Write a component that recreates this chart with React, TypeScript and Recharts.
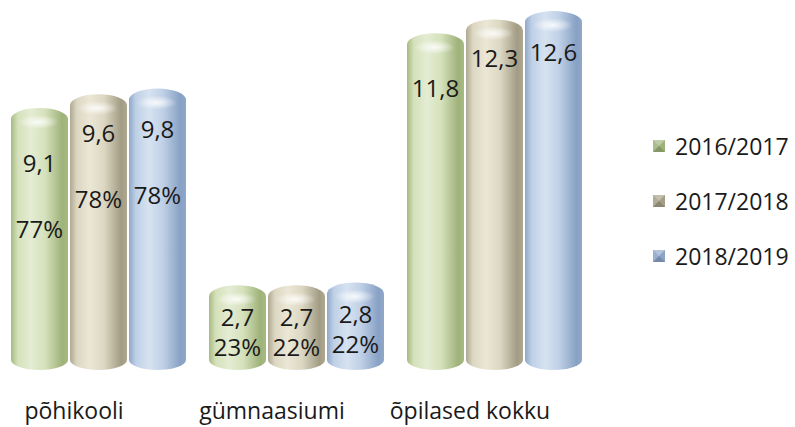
import React from 'react';
import { BarChart, Bar, XAxis, YAxis, LabelList } from 'recharts';

const categories = ['põhikooli', 'gümnaasiumi', 'õpilased kokku'];
const series1 = [9.1, 2.7, 11.8];
const series2 = [9.6, 2.7, 12.3];
const series3 = [9.8, 2.8, 12.6];
const pct1 = ['77%', '23%', ''];
const pct2 = ['78%', '22%', ''];
const pct3 = ['78%', '22%', ''];
const seriesNames = ['2016/2017', '2017/2018', '2018/2019'];

const data = categories.map((name, i) => ({
  name,
  s1: series1[i],
  s2: series2[i],
  s3: series3[i],
  p1: pct1[i],
  p2: pct2[i],
  p3: pct3[i],
}));

const FONT = '"Open Sans", Lato, sans-serif';
const palette = [
  { edge: '#a7ba82', light: '#e4ecd3', mid: '#d5e1bb', dark: '#9fb27a', icon: '#9db27a' },
  { edge: '#aea891', light: '#ebe7d6', mid: '#dcd7c2', dark: '#a29c84', icon: '#a49e86' },
  { edge: '#8fa8c9', light: '#d6e2f0', mid: '#bfd0e6', dark: '#88a1c4', icon: '#8aa3c6' },
];
const valueOffsets = [54, 38, 40];

const fmt = (v: number) => v.toFixed(1).replace('.', ',');

const Cylinder = (si: number) => (props: any) => {
  const { x, y, width: w, height: h } = props;
  if (!w || !h) return null;
  const ry = 11;
  const d = `M${x},${y + ry} A${w / 2},${ry} 0 0 1 ${x + w},${y + ry} L${x + w},${y + h} A${w / 2},${ry - 1} 0 0 1 ${x},${y + h} Z`;
  return (
    <g>
      <path d={d} fill={`url(#cyl${si})`} />
      <ellipse cx={x + w * 0.48} cy={y + ry + 3} rx={w * 0.36} ry={7} fill="url(#hl)" />
    </g>
  );
};

const makeLabel = (si: number, pctKey: 'p1' | 'p2' | 'p3') => (props: any) => {
  const { x, y, width: w, height: h, value, index } = props;
  const cx = x + w / 2;
  const small = h < 120;
  const vy = y + (small ? 31 : valueOffsets[si]);
  const pct = data[index][pctKey];
  return (
    <g>
      <text x={cx} y={vy} textAnchor="middle" dominantBaseline="central" fontSize={24} fontFamily={FONT} fill="#1a1a1a">
        {fmt(value)}
      </text>
      {pct ? (
        <text x={cx} y={vy + (small ? 30 : 66)} textAnchor="middle" dominantBaseline="central" fontSize={24} fontFamily={FONT} fill="#1a1a1a">
          {pct}
        </text>
      ) : null}
    </g>
  );
};

const CatTick = (props: any) => {
  const { x, y, payload } = props;
  return (
    <text x={x - 25} y={y + 42} textAnchor="middle" dominantBaseline="central" fontSize={23} fontFamily={FONT} fill="#1a1a1a">
      {payload.value}
    </text>
  );
};

const LegendIcon = ({ c }: { c: string }) => (
  <svg width={12} height={12} style={{ display: 'block' }}>
    <rect x={0} y={0} width={12} height={12} fill={c} />
    <polygon points="0,0 12,0 6,6" fill="#ffffff" opacity={0.35} />
    <polygon points="0,0 0,12 6,6" fill="#ffffff" opacity={0.15} />
    <polygon points="0,12 12,12 6,6" fill="#000000" opacity={0.15} />
  </svg>
);

const LegendBox = () => (
  <div style={{ position: 'absolute', left: 653, top: 118, fontFamily: FONT, fontSize: 23, color: '#1a1a1a' }}>
    {seriesNames.map((n, i) => (
      <div key={n} style={{ display: 'flex', alignItems: 'center', height: 55 }}>
        <LegendIcon c={palette[i].icon} />
        <span style={{ marginLeft: 10 }}>{n}</span>
      </div>
    ))}
  </div>
);

export default function App() {
  return (
    <div style={{ position: 'absolute', left: 0, top: 0, width: 795, height: 427, background: '#fff' }}>
      <BarChart
        width={795}
        height={427}
        data={data}
        margin={{ top: 0, right: 201, bottom: 7, left: 0 }}
        barCategoryGap={11}
        barGap={2}
      >
        <defs>
          {palette.map((p, i) => (
            <linearGradient key={i} id={`cyl${i}`} x1="0" y1="0" x2="1" y2="0">
              <stop offset="0" stopColor={p.edge} />
              <stop offset="0.12" stopColor={p.mid} />
              <stop offset="0.35" stopColor={p.light} />
              <stop offset="0.6" stopColor={p.mid} />
              <stop offset="0.9" stopColor={p.dark} />
              <stop offset="1" stopColor={p.edge} />
            </linearGradient>
          ))}
          <radialGradient id="hl" cx="0.5" cy="0.5" r="0.5">
            <stop offset="0" stopColor="#ffffff" stopOpacity={0.85} />
            <stop offset="1" stopColor="#ffffff" stopOpacity={0} />
          </radialGradient>
        </defs>
        <XAxis dataKey="name" axisLine={false} tickLine={false} height={60} tick={<CatTick />} interval={0} />
        <YAxis hide domain={[0, 13]} />
        <Bar dataKey="s1" name={seriesNames[0]} fill={palette[0].mid} shape={Cylinder(0)} isAnimationActive={false}>
          <LabelList dataKey="s1" content={makeLabel(0, 'p1')} />
        </Bar>
        <Bar dataKey="s2" name={seriesNames[1]} fill={palette[1].mid} shape={Cylinder(1)} isAnimationActive={false}>
          <LabelList dataKey="s2" content={makeLabel(1, 'p2')} />
        </Bar>
        <Bar dataKey="s3" name={seriesNames[2]} fill={palette[2].mid} shape={Cylinder(2)} isAnimationActive={false}>
          <LabelList dataKey="s3" content={makeLabel(2, 'p3')} />
        </Bar>
      </BarChart>
      <LegendBox />
    </div>
  );
}
